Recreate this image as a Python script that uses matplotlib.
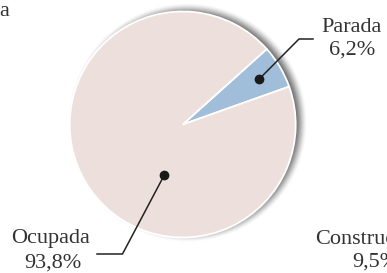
import numpy as np
import matplotlib.pyplot as plt

# Data
labels = ["Parada", "Ocupada"]
values = [6.2, 93.8]
pct_labels = ["6,2%", "93,8%"]
colors = ["#a0bed9", "#ede0dc"]

# Layout (pixels, y measured upward)
W, H = 387, 273
cx, cy, R = 182.7, 148.5, 113
start = 19.6

fig = plt.figure(figsize=(W / 100, H / 100), dpi=100)
ax = fig.add_axes([0, 0, 1, 1])
ax.set_xlim(0, W)
ax.set_ylim(0, H)
ax.set_aspect("equal")
ax.axis("off")

# soft drop shadow toward the right
xx, yy = np.meshgrid(np.arange(W) + 0.5, np.arange(H) + 0.5)
d = np.hypot(xx - (cx + 5), yy - (cy + 2))
t = np.clip((R + 7 - d) / 14, 0, 1)
alpha = 0.75 * t * t * (3 - 2 * t)
shadow = np.zeros((H, W, 4))
shadow[..., :3] = 0.2
shadow[..., 3] = alpha
ax.imshow(shadow, extent=(0, W, 0, H), origin="lower", zorder=0, interpolation="bilinear")

wedges, _ = ax.pie(values, colors=colors, startangle=start, counterclock=True,
                   center=(cx, cy), radius=R, frame=True,
                   wedgeprops=dict(edgecolor="white", linewidth=1.3))
for w in wedges:
    w.set_zorder(2)
ax.set_xlim(0, W)
ax.set_ylim(0, H)
ax.axis("off")

font = dict(family="Liberation Serif", size=16, color="#333333")
line = dict(color="#222222", lw=1.1, zorder=3)

# Parada label
a0 = np.deg2rad(start + values[0] * 3.6 / 2)
px, py = cx + 0.79 * R * np.cos(a0), cy + 0.79 * R * np.sin(a0)
ax.plot([px, 299, 313], [py, 234, 234], **line)
ax.plot(px, py, "o", color="#1a1a1a", ms=6, zorder=4)
ax.text(352, 246, labels[0], ha="center", va="center", **font)
ax.text(352, 223, pct_labels[0], ha="center", va="center", **font)

# Ocupada label
a1 = np.deg2rad(250)
ox, oy = cx + 0.475 * R * np.cos(a1), cy + 0.475 * R * np.sin(a1)
ax.plot([ox, 122.5, 97], [oy, 19, 19], **line)
ax.plot(ox, oy, "o", color="#1a1a1a", ms=6, zorder=4)
ax.text(51, 35, labels[1], ha="center", va="center", **font)
ax.text(53, 10, pct_labels[1], ha="center", va="center", **font)

# pieces of neighbouring charts cut by the frame
ax.text(9, 262, "a", ha="right", va="center", **font)
ax.text(315, 33, "Construcción", ha="left", va="center", **font)
ax.text(352, 11, "9,5%", ha="left", va="center", **font)

fig.savefig("out.png", dpi=100)
